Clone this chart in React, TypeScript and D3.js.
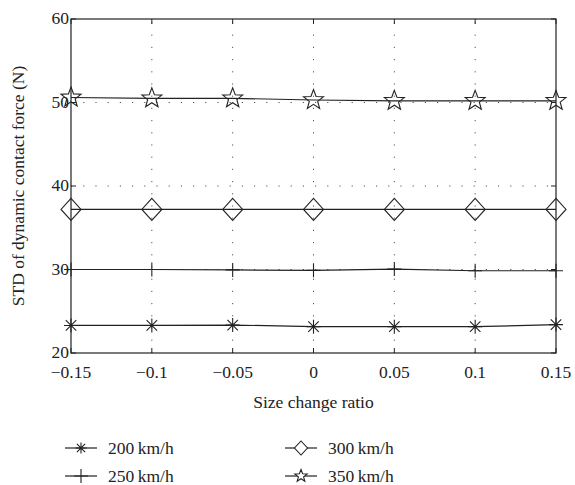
import React from "react";
import * as d3 from "d3";

const ratios = [-0.15, -0.1, -0.05, 0, 0.05, 0.1, 0.15];
const speed200 = [23.3, 23.3, 23.35, 23.15, 23.15, 23.15, 23.4];
const speed250 = [30.0, 30.0, 29.95, 29.9, 30.05, 29.85, 29.85];
const speed300 = [37.2, 37.2, 37.2, 37.2, 37.2, 37.2, 37.2];
const speed350 = [50.6, 50.5, 50.5, 50.3, 50.2, 50.2, 50.2];
const seriesNames = ["200\u2009km/h", "250\u2009km/h", "300\u2009km/h", "350\u2009km/h"];
const yTicks = [20, 30, 40, 50, 60];

const W = 575;
const H = 485;
const margin = { top: 19, right: 19, bottom: 132, left: 71 };
const ink = "#222";
const font = "Liberation Serif, DejaVu Serif, serif";

// marker paths centred at 0,0
const asterisk = (r: number) =>
  `M${-r},0L${r},0M0,${-r}L0,${r}M${-r * 0.75},${-r * 0.75}L${r * 0.75},${r * 0.75}M${-r * 0.75},${r * 0.75}L${r * 0.75},${-r * 0.75}`;
const plus = (r: number) => `M${-r},0L${r},0M0,${-r}L0,${r}`;
const diamond = (w: number, h: number) => `M0,${-h}L${w},0L0,${h}L${-w},0Z`;
const star = (R: number) => {
  const r = R * 0.42;
  const pts: string[] = [];
  for (let i = 0; i < 10; i++) {
    const a = (Math.PI / 5) * i - Math.PI / 2;
    const rr = i % 2 === 0 ? R : r;
    pts.push(`${(rr * Math.cos(a)).toFixed(2)},${(rr * Math.sin(a)).toFixed(2)}`);
  }
  return "M" + pts.join("L") + "Z";
};

const markers = [
  { big: asterisk(7), small: asterisk(5.5), fill: "none" },
  { big: plus(7), small: plus(7), fill: "none" },
  { big: diamond(10, 11), small: diamond(6.5, 7), fill: "white" },
  { big: star(10.5), small: star(6.5), fill: "white" },
];

const fmt = (v: number) => (v < 0 ? "\u2212" + d3.format("")(-v) : d3.format("")(v));

export default function App() {
  const x = d3
    .scaleLinear()
    .domain([-0.15, 0.15])
    .range([margin.left, W - margin.right]);
  const y = d3
    .scaleLinear()
    .domain([20, 60])
    .range([H - margin.bottom, margin.top]);

  const allSeries = [speed200, speed250, speed300, speed350];
  const line = d3
    .line<number>()
    .x((_, i) => x(ratios[i]))
    .y((d) => y(d));

  const x0 = x.range()[0];
  const x1 = x.range()[1];
  const y0 = y.range()[0];
  const y1 = y.range()[1];
  const tick = 5;
  const txt = { fontFamily: font, fontSize: 17.5, fill: ink };

  const legendItems = [
    { col: 0, row: 0 },
    { col: 0, row: 1 },
    { col: 1, row: 0 },
    { col: 1, row: 1 },
  ];

  return (
    <svg
      width={W}
      height={H}
      style={{ position: "absolute", left: 0, top: 0, background: "white" }}
    >
      {/* grid */}
      {ratios.slice(1, -1).map((r) => (
        <line key={"gx" + r} x1={x(r)} x2={x(r)} y1={y0} y2={y1} stroke="#555" strokeDasharray="1.2,11" />
      ))}
      {yTicks.slice(1, -1).map((t) => (
        <line key={"gy" + t} x1={x0} x2={x1} y1={y(t)} y2={y(t)} stroke="#555" strokeDasharray="1.2,11" />
      ))}

      {/* ticks on all four sides, pointing in */}
      {ratios.map((r) => (
        <g key={"tx" + r} stroke={ink} strokeWidth={1}>
          <line x1={x(r)} x2={x(r)} y1={y0} y2={y0 - tick} />
          <line x1={x(r)} x2={x(r)} y1={y1} y2={y1 + tick} />
        </g>
      ))}
      {yTicks.map((t) => (
        <g key={"ty" + t} stroke={ink} strokeWidth={1}>
          <line x1={x0} x2={x0 + tick} y1={y(t)} y2={y(t)} />
          <line x1={x1} x2={x1 - tick} y1={y(t)} y2={y(t)} />
        </g>
      ))}

      {/* series */}
      {allSeries.map((s, k) => (
        <g key={"s" + k}>
          <path d={line(s) || ""} fill="none" stroke={ink} strokeWidth={1.2} />
          {s.map((v, i) => (
            <path
              key={i}
              d={markers[k].big}
              transform={`translate(${x(ratios[i])},${y(v)})`}
              fill="none"
              stroke={ink}
              strokeWidth={1.1}
            />
          ))}
        </g>
      ))}

      {/* frame */}
      <rect x={x0} y={y1} width={x1 - x0} height={y0 - y1} fill="none" stroke={ink} strokeWidth={1.2} />

      {/* tick labels */}
      {ratios.map((r) => (
        <text key={"lx" + r} x={x(r)} y={y0 + 25} textAnchor="middle" style={txt}>
          {fmt(r)}
        </text>
      ))}
      {yTicks.map((t) => (
        <text key={"ly" + t} x={x0 - 2} y={y(t) + 5} textAnchor="end" style={txt}>
          {t}
        </text>
      ))}

      {/* axis titles */}
      <text x={(x0 + x1) / 2} y={408} textAnchor="middle" style={txt}>
        Size change ratio
      </text>
      <text
        transform={`translate(24,${(y0 + y1) / 2}) rotate(-90)`}
        textAnchor="middle"
        style={txt}
      >
        STD of dynamic contact force (N)
      </text>

      {/* legend */}
      {legendItems.map((it, k) => {
        const lx = 65 + it.col * 220;
        const ly = 448 + it.row * 28;
        return (
          <g key={"lg" + k}>
            <line x1={lx} x2={lx + 32} y1={ly} y2={ly} stroke={ink} strokeWidth={1.2} />
            <path
              d={markers[k].small}
              transform={`translate(${lx + 16},${ly})`}
              fill={markers[k].fill}
              stroke={ink}
              strokeWidth={1.1}
            />
            <text x={lx + 43} y={ly + 6} style={txt}>
              {seriesNames[k]}
            </text>
          </g>
        );
      })}
    </svg>
  );
}
